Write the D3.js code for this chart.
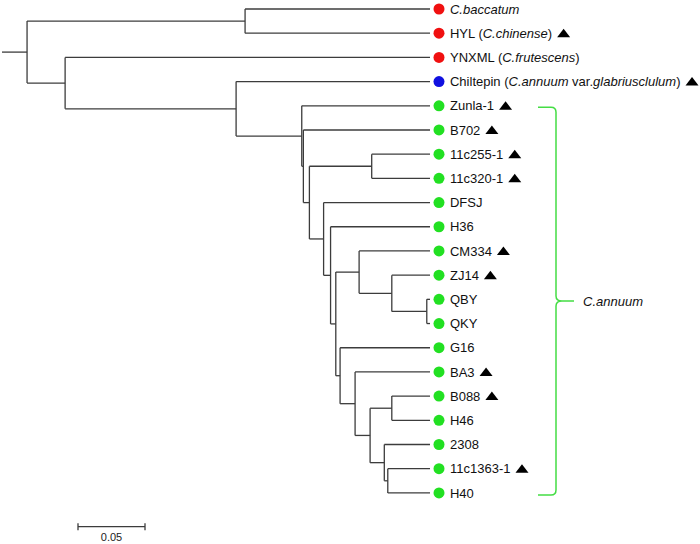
<!DOCTYPE html>
<html><head><meta charset="utf-8">
<script src="https://cdn.jsdelivr.net/npm/d3@7"></script>
<style>body{margin:0;background:#fff}svg{display:block}text{font-family:"Liberation Sans",Arial,sans-serif}</style>
</head><body><svg id="chart" width="700" height="544"></svg>
<script>
// ---- data ----
const nodeIds = ["root","A","C.baccatum","HYL","B","YNXML","C","Chiltepin","D","Zunla-1","E","B702","F","G","11c255-1","11c320-1","H","DFSJ","I","H36","J","K","CM334","L","ZJ14","M","QBY","QKY","N","G16","O","BA3","P","Q","B088","H46","S","2308","T","11c1363-1","H40"];
const parentIds = ["","root","A","A","root","B","B","C","C","D","D","E","E","F","G","G","F","H","H","I","I","J","K","K","L","L","M","M","J","N","N","O","O","P","Q","Q","P","S","S","T","T"];
const branchLengths = [0.0187,0.1627,0.1380,0.1380,0.0284,0.2723,0.1276,0.1447,0.0490,0.0957,0.0012,0.0945,0.0045,0.0465,0.0435,0.0435,0.0106,0.0794,0.0052,0.0742,0.0039,0.0174,0.0529,0.0244,0.0285,0.0261,0.0024,0.0024,0.0032,0.0671,0.0112,0.0559,0.0112,0.0162,0.0285,0.0285,0.0106,0.0341,0.0026,0.0315,0.0315];

const leafNames = ["C.baccatum","HYL","YNXML","Chiltepin","Zunla-1","B702","11c255-1","11c320-1","DFSJ","H36","CM334","ZJ14","QBY","QKY","G16","BA3","B088","H46","2308","11c1363-1","H40"];
const leafLabels = [
  [["C.baccatum",true]],
  [["HYL (",false],["C.chinense",true],[")",false]],
  [["YNXML (",false],["C.frutescens",true],[")",false]],
  [["Chiltepin (",false],["C.annuum",true],[" var.",false],["glabriusclulum",true],[")",false]],
  [["Zunla-1",false]],[["B702",false]],[["11c255-1",false]],[["11c320-1",false]],
  [["DFSJ",false]],[["H36",false]],[["CM334",false]],[["ZJ14",false]],
  [["QBY",false]],[["QKY",false]],[["G16",false]],[["BA3",false]],
  [["B088",false]],[["H46",false]],[["2308",false]],[["11c1363-1",false]],[["H40",false]]
];
const leafSpecies = ["other","other","other","wild","annuum","annuum","annuum","annuum","annuum","annuum","annuum","annuum","annuum","annuum","annuum","annuum","annuum","annuum","annuum","annuum","annuum"];
const speciesKeys = ["other","wild","annuum"];
const speciesColors = ["#f01010","#1010e0","#22e022"];
const marked = [false,true,false,true,true,true,true,true,false,false,true,true,false,false,false,true,true,false,false,true,false];
const cladeLabel = "C.annuum";
const cladeRange = ["Zunla-1","H40"];
const scaleValue = 0.05;
const scaleText = "0.05";

// ---- layout ----
const svg = d3.select("#chart");
const xScale = d3.scaleLinear().domain([0, scaleValue]).range([0, 67]);
const x0 = 2;
const yScale = d3.scalePoint().domain(leafNames).range([9, 492.9]);
const color = d3.scaleOrdinal().domain(speciesKeys).range(speciesColors);

const table = nodeIds.map((id,i)=>({id, parent: parentIds[i]||null, len: branchLengths[i]}));
const root = d3.stratify().id(d=>d.id).parentId(d=>d.parent)(table);
root.eachBefore(n=>{ n.depthLen = (n.parent ? n.parent.depthLen : 0) + n.data.len; n.px = x0 + xScale(n.depthLen); });
root.eachAfter(n=>{
  if(!n.children) n.py = yScale(n.id);
  else n.py = (n.children[0].py + n.children[n.children.length-1].py)/2;
});

const lineColor = "#3c3c3c";
const g = svg.append("g").attr("fill","none").attr("stroke",lineColor).attr("stroke-width",1.3);
// root stub
g.append("line").attr("x1",x0).attr("x2",root.px).attr("y1",root.py).attr("y2",root.py);
root.descendants().forEach(n=>{
  if(n.parent){
    g.append("line").attr("x1",n.parent.px).attr("x2",n.px).attr("y1",n.py).attr("y2",n.py);
  }
  if(n.children){
    g.append("line").attr("x1",n.px).attr("x2",n.px)
      .attr("y1",n.children[0].py).attr("y2",n.children[n.children.length-1].py);
  }
});

// leaves
const leaves = root.leaves();
leaves.forEach(n=>{
  const i = leafNames.indexOf(n.id);
  svg.append("circle").attr("cx",n.px+9).attr("cy",n.py).attr("r",5.5).attr("fill",color(leafSpecies[i]));
  const t = svg.append("text").attr("x",n.px+20).attr("y",n.py+4.6).attr("font-size",13).attr("fill","#111");
  leafLabels[i].forEach(([s,it])=>{
    t.append("tspan").text(s).attr("font-style", it?"italic":"normal");
  });
  if(marked[i]){
    const w = t.node().getComputedTextLength();
    const tx = n.px+20+w+5;
    svg.append("path").attr("d",`M${tx},${n.py+4} L${tx+13},${n.py+4} L${tx+6.5},${n.py-4.5} Z`).attr("fill","#000");
  }
});

// clade bracket
const yTop = yScale(cladeRange[0])+1.5, yBot = yScale(cladeRange[1])+2;
const yMid = (yTop+yBot)/2;
const bx0 = 538, bx1 = 556, bx2 = 574;
svg.append("path").attr("fill","none").attr("stroke","#44dd44").attr("stroke-width",1.5)
  .attr("d",`M${bx0},${yTop} L${bx1-5},${yTop} Q${bx1},${yTop} ${bx1},${yTop+5} L${bx1},${yMid-5} Q${bx1},${yMid} ${bx1+6},${yMid} L${bx2},${yMid} M${bx1+6},${yMid} Q${bx1},${yMid} ${bx1},${yMid+5} L${bx1},${yBot-5} Q${bx1},${yBot} ${bx1-5},${yBot} L${bx0},${yBot}`);
svg.append("text").attr("x",583).attr("y",yMid+5).attr("font-size",13).attr("font-style","italic").attr("fill","#111").text(cladeLabel);

// scale bar
const sbX = 78, sbY = 526.7;
const sb = svg.append("g").attr("stroke",lineColor).attr("stroke-width",1.3);
sb.append("line").attr("x1",sbX).attr("x2",sbX+xScale(scaleValue)).attr("y1",sbY).attr("y2",sbY);
sb.append("line").attr("x1",sbX).attr("x2",sbX).attr("y1",sbY-3.5).attr("y2",sbY+3.5);
sb.append("line").attr("x1",sbX+xScale(scaleValue)).attr("x2",sbX+xScale(scaleValue)).attr("y1",sbY-3.5).attr("y2",sbY+3.5);
svg.append("text").attr("x",sbX+xScale(scaleValue)/2).attr("y",541).attr("text-anchor","middle").attr("font-size",11).attr("fill","#222").text(scaleText);
</script></body></html>
